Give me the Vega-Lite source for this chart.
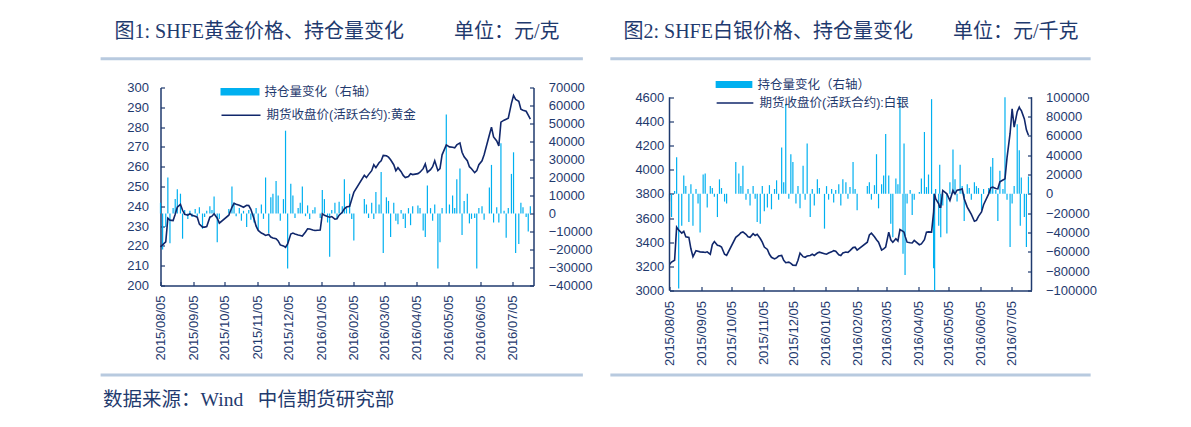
{
"$schema": "https://vega.github.io/schema/vega-lite/v6.json",
"background": "white",
"padding": {"left": 98.5, "top": 21.5, "right": 5, "bottom": 5},
"spacing": 16,
"resolve": {"scale": {"color": "independent", "stroke": "independent"}, "legend": {"color": "independent", "stroke": "independent"}},
"title": {"text": "数据来源：Wind\u00a0\u00a0\u00a0中信期货研究部", "orient": "bottom", "anchor": "start", "frame": "bounds", "offset": 29, "dx": 4, "baseline": "alphabetic", "fontSize": 19.5},
"datasets": {
"gold": [
{"d":"2015/08/05","p":219.5,"v":6000},
{"d":"2015/08/07","p":220.5,"v":-20000},
{"d":"2015/08/10","p":222,"v":-7500},
{"d":"2015/08/12","p":234,"v":20000},
{"d":"2015/08/14","p":233,"v":-16500},
{"d":"2015/08/17","p":232.8,"v":3000},
{"d":"2015/08/19","p":236,"v":8000},
{"d":"2015/08/21","p":239.5,"v":13500},
{"d":"2015/08/24","p":241,"v":11000},
{"d":"2015/08/26","p":238,"v":-14000},
{"d":"2015/08/28","p":236,"v":2000},
{"d":"2015/08/31","p":235.5,"v":-3000},
{"d":"2015/09/02","p":236.2,"v":1500},
{"d":"2015/09/04","p":235.5,"v":-2000},
{"d":"2015/09/07","p":235,"v":2500},
{"d":"2015/09/09","p":234.5,"v":-1500},
{"d":"2015/09/11","p":231,"v":3500},
{"d":"2015/09/14","p":229.5,"v":-8500},
{"d":"2015/09/16","p":229.5,"v":-2000},
{"d":"2015/09/18","p":229.8,"v":1500},
{"d":"2015/09/21","p":234.5,"v":4000},
{"d":"2015/09/23","p":235,"v":2000},
{"d":"2015/09/25","p":236.2,"v":9500},
{"d":"2015/09/28","p":234,"v":-16000},
{"d":"2015/09/30","p":231.5,"v":-3000},
{"d":"2015/10/09","p":235.5,"v":2500},
{"d":"2015/10/12","p":239.5,"v":15000},
{"d":"2015/10/14","p":241.5,"v":6000},
{"d":"2015/10/16","p":241,"v":-1500},
{"d":"2015/10/19","p":240.5,"v":3000},
{"d":"2015/10/21","p":240,"v":-4000},
{"d":"2015/10/23","p":239.5,"v":1500},
{"d":"2015/10/26","p":240.5,"v":-7500},
{"d":"2015/10/28","p":240.4,"v":2000},
{"d":"2015/10/30","p":238.5,"v":-3500},
{"d":"2015/11/02","p":233.7,"v":-5000},
{"d":"2015/11/04","p":230,"v":3000},
{"d":"2015/11/06","p":227.8,"v":-9000},
{"d":"2015/11/09","p":226.5,"v":5000},
{"d":"2015/11/11","p":226,"v":-3000},
{"d":"2015/11/13","p":225.3,"v":20000},
{"d":"2015/11/16","p":225.8,"v":-11000},
{"d":"2015/11/18","p":224.5,"v":9000},
{"d":"2015/11/20","p":224,"v":11000},
{"d":"2015/11/23","p":223.6,"v":18000},
{"d":"2015/11/25","p":222.5,"v":10000},
{"d":"2015/11/27","p":220.5,"v":-4000},
{"d":"2015/11/30","p":220,"v":8000},
{"d":"2015/12/02","p":219.3,"v":46000},
{"d":"2015/12/04","p":221,"v":-30500},
{"d":"2015/12/07","p":226,"v":16500},
{"d":"2015/12/09","p":226.5,"v":10000},
{"d":"2015/12/11","p":226,"v":-2500},
{"d":"2015/12/14","p":225.5,"v":3000},
{"d":"2015/12/16","p":225.3,"v":6000},
{"d":"2015/12/18","p":225,"v":15000},
{"d":"2015/12/21","p":227,"v":-1500},
{"d":"2015/12/23","p":228.6,"v":4500},
{"d":"2015/12/25","p":228.5,"v":-3000},
{"d":"2015/12/28","p":228,"v":2000},
{"d":"2015/12/30","p":227.8,"v":3500},
{"d":"2016/01/04","p":228,"v":-2500},
{"d":"2016/01/06","p":236.2,"v":13000},
{"d":"2016/01/08","p":235.5,"v":8000},
{"d":"2016/01/11","p":234.8,"v":-5000},
{"d":"2016/01/13","p":234.5,"v":-24000},
{"d":"2016/01/15","p":234.8,"v":2000},
{"d":"2016/01/18","p":233.5,"v":6000},
{"d":"2016/01/20","p":233.7,"v":-3000},
{"d":"2016/01/22","p":235.5,"v":6500},
{"d":"2016/01/25","p":237,"v":4000},
{"d":"2016/01/27","p":238.7,"v":19000},
{"d":"2016/01/29","p":239.6,"v":3000},
{"d":"2016/02/01","p":240,"v":11000},
{"d":"2016/02/03","p":243.5,"v":-3000},
{"d":"2016/02/05","p":247,"v":-15000},
{"d":"2016/02/15","p":255.6,"v":8000},
{"d":"2016/02/17","p":254.5,"v":5000},
{"d":"2016/02/19","p":256,"v":-2500},
{"d":"2016/02/22","p":258,"v":6000},
{"d":"2016/02/24","p":261,"v":-3000},
{"d":"2016/02/26","p":259.5,"v":12000},
{"d":"2016/02/29","p":262,"v":5000},
{"d":"2016/03/02","p":263,"v":23000},
{"d":"2016/03/04","p":265.7,"v":-22000},
{"d":"2016/03/07","p":265.5,"v":9000},
{"d":"2016/03/09","p":264.8,"v":7000},
{"d":"2016/03/11","p":263.5,"v":-13000},
{"d":"2016/03/14","p":261,"v":6000},
{"d":"2016/03/16","p":258,"v":-4000},
{"d":"2016/03/18","p":259.5,"v":-6000},
{"d":"2016/03/21","p":257.5,"v":2000},
{"d":"2016/03/23","p":255.6,"v":-3000},
{"d":"2016/03/25","p":254.5,"v":-8000},
{"d":"2016/03/28","p":255,"v":3000},
{"d":"2016/03/30","p":256.4,"v":-6500},
{"d":"2016/04/01","p":256,"v":4000},
{"d":"2016/04/06","p":256.5,"v":4500},
{"d":"2016/04/08","p":257.2,"v":3000},
{"d":"2016/04/11","p":259,"v":-9500},
{"d":"2016/04/13","p":261.4,"v":-13000},
{"d":"2016/04/15","p":257.2,"v":15500},
{"d":"2016/04/18","p":258.5,"v":3000},
{"d":"2016/04/20","p":260,"v":-4000},
{"d":"2016/04/22","p":263,"v":5000},
{"d":"2016/04/25","p":258,"v":-30500},
{"d":"2016/04/27","p":259,"v":-16000},
{"d":"2016/04/29","p":266,"v":3000},
{"d":"2016/05/03","p":271,"v":55000},
{"d":"2016/05/06","p":270,"v":5000},
{"d":"2016/05/09","p":269.8,"v":10000},
{"d":"2016/05/11","p":269.5,"v":3000},
{"d":"2016/05/13","p":271,"v":19000},
{"d":"2016/05/16","p":272,"v":25000},
{"d":"2016/05/18","p":267.3,"v":-12000},
{"d":"2016/05/20","p":265,"v":7000},
{"d":"2016/05/23","p":263,"v":11000},
{"d":"2016/05/25","p":260,"v":-5500},
{"d":"2016/05/27","p":259,"v":-3000},
{"d":"2016/05/30","p":257,"v":-2500},
{"d":"2016/06/01","p":258,"v":-30500},
{"d":"2016/06/03","p":261,"v":3000},
{"d":"2016/06/06","p":263,"v":4000},
{"d":"2016/06/08","p":266,"v":-3500},
{"d":"2016/06/13","p":276,"v":14500},
{"d":"2016/06/15","p":280,"v":27000},
{"d":"2016/06/17","p":275,"v":-5000},
{"d":"2016/06/20","p":273,"v":3500},
{"d":"2016/06/22","p":270.5,"v":-5000},
{"d":"2016/06/24","p":282.5,"v":39000},
{"d":"2016/06/27","p":283.5,"v":1500},
{"d":"2016/06/29","p":284,"v":-13500},
{"d":"2016/07/01","p":284.5,"v":3000},
{"d":"2016/07/04","p":292,"v":22000},
{"d":"2016/07/06","p":296,"v":34000},
{"d":"2016/07/08","p":294,"v":-22000},
{"d":"2016/07/11","p":293,"v":-17000},
{"d":"2016/07/13","p":289,"v":6000},
{"d":"2016/07/15","p":288.5,"v":3500},
{"d":"2016/07/18","p":288,"v":-2000},
{"d":"2016/07/20","p":286,"v":-10000},
{"d":"2016/07/22","p":284,"v":4000}
],
"silver": [
{"d":"2015/08/05","p":3215,"v":-8000},
{"d":"2015/08/07","p":3235,"v":-24000},
{"d":"2015/08/10","p":3250,"v":3000},
{"d":"2015/08/12","p":3524,"v":38000},
{"d":"2015/08/14","p":3500,"v":-98000},
{"d":"2015/08/17","p":3475,"v":-33000},
{"d":"2015/08/19","p":3490,"v":19000},
{"d":"2015/08/21","p":3445,"v":8000},
{"d":"2015/08/24","p":3440,"v":-29000},
{"d":"2015/08/26","p":3345,"v":10000},
{"d":"2015/08/28","p":3280,"v":-33000},
{"d":"2015/08/31","p":3330,"v":5000},
{"d":"2015/09/02","p":3325,"v":-10000},
{"d":"2015/09/04","p":3320,"v":-40000},
{"d":"2015/09/07","p":3318,"v":20000},
{"d":"2015/09/09","p":3315,"v":21000},
{"d":"2015/09/11","p":3320,"v":-14000},
{"d":"2015/09/14","p":3300,"v":8000},
{"d":"2015/09/16","p":3380,"v":6000},
{"d":"2015/09/18","p":3405,"v":-3000},
{"d":"2015/09/21","p":3375,"v":-24000},
{"d":"2015/09/23","p":3370,"v":15000},
{"d":"2015/09/25","p":3360,"v":6000},
{"d":"2015/09/28","p":3300,"v":-8000},
{"d":"2015/09/30","p":3290,"v":-10000},
{"d":"2015/10/09","p":3440,"v":33000},
{"d":"2015/10/12","p":3460,"v":21000},
{"d":"2015/10/14","p":3478,"v":8000},
{"d":"2015/10/16","p":3485,"v":29000},
{"d":"2015/10/19","p":3465,"v":-6000},
{"d":"2015/10/21","p":3445,"v":5000},
{"d":"2015/10/23","p":3440,"v":-12000},
{"d":"2015/10/26","p":3470,"v":8000},
{"d":"2015/10/28","p":3455,"v":-5000},
{"d":"2015/10/30","p":3465,"v":-29000},
{"d":"2015/11/02","p":3430,"v":-31000},
{"d":"2015/11/04","p":3400,"v":8000},
{"d":"2015/11/06","p":3360,"v":-18000},
{"d":"2015/11/09","p":3340,"v":-14000},
{"d":"2015/11/11","p":3300,"v":9000},
{"d":"2015/11/13","p":3275,"v":-16000},
{"d":"2015/11/16","p":3262,"v":5000},
{"d":"2015/11/18","p":3270,"v":14000},
{"d":"2015/11/20","p":3285,"v":-6000},
{"d":"2015/11/23","p":3290,"v":48000},
{"d":"2015/11/25","p":3250,"v":12000},
{"d":"2015/11/27","p":3230,"v":93000},
{"d":"2015/11/30","p":3235,"v":-5000},
{"d":"2015/12/02","p":3225,"v":41000},
{"d":"2015/12/04","p":3210,"v":33000},
{"d":"2015/12/07","p":3207,"v":-10000},
{"d":"2015/12/09","p":3250,"v":8000},
{"d":"2015/12/11","p":3310,"v":-15000},
{"d":"2015/12/14","p":3280,"v":29000},
{"d":"2015/12/16","p":3275,"v":-6000},
{"d":"2015/12/18","p":3285,"v":52000},
{"d":"2015/12/21","p":3290,"v":-24000},
{"d":"2015/12/23","p":3300,"v":5000},
{"d":"2015/12/25","p":3290,"v":-12000},
{"d":"2015/12/28","p":3310,"v":15000},
{"d":"2015/12/30","p":3317,"v":6000},
{"d":"2016/01/04","p":3305,"v":-36000},
{"d":"2016/01/06","p":3300,"v":8000},
{"d":"2016/01/08","p":3310,"v":-6000},
{"d":"2016/01/11","p":3320,"v":5000},
{"d":"2016/01/13","p":3330,"v":-9000},
{"d":"2016/01/15","p":3325,"v":4000},
{"d":"2016/01/18","p":3295,"v":10000},
{"d":"2016/01/20","p":3290,"v":-12000},
{"d":"2016/01/22","p":3310,"v":15000},
{"d":"2016/01/25","p":3318,"v":12000},
{"d":"2016/01/27","p":3315,"v":-5000},
{"d":"2016/01/29","p":3330,"v":7000},
{"d":"2016/02/01","p":3355,"v":33000},
{"d":"2016/02/03","p":3358,"v":5000},
{"d":"2016/02/05","p":3335,"v":-17000},
{"d":"2016/02/15","p":3400,"v":8000},
{"d":"2016/02/17","p":3460,"v":12000},
{"d":"2016/02/19","p":3474,"v":-6000},
{"d":"2016/02/22","p":3445,"v":9000},
{"d":"2016/02/24","p":3420,"v":41000},
{"d":"2016/02/26","p":3400,"v":-15000},
{"d":"2016/02/29","p":3335,"v":10000},
{"d":"2016/03/02","p":3345,"v":19000},
{"d":"2016/03/04","p":3360,"v":62000},
{"d":"2016/03/07","p":3483,"v":19000},
{"d":"2016/03/09","p":3420,"v":-31000},
{"d":"2016/03/11","p":3400,"v":-45000},
{"d":"2016/03/14","p":3428,"v":16000},
{"d":"2016/03/16","p":3410,"v":10000},
{"d":"2016/03/18","p":3505,"v":100000},
{"d":"2016/03/21","p":3490,"v":-62000},
{"d":"2016/03/22","p":3483,"v":52000},
{"d":"2016/03/23","p":3450,"v":-84000},
{"d":"2016/03/25","p":3400,"v":-10000},
{"d":"2016/03/28","p":3395,"v":4000},
{"d":"2016/03/30","p":3393,"v":-22000},
{"d":"2016/04/01","p":3414,"v":-6000},
{"d":"2016/04/06","p":3379,"v":2000},
{"d":"2016/04/08","p":3386,"v":16000},
{"d":"2016/04/11","p":3420,"v":64000},
{"d":"2016/04/13","p":3483,"v":7000},
{"d":"2016/04/15","p":3485,"v":20000},
{"d":"2016/04/18","p":3483,"v":98000},
{"d":"2016/04/20","p":3650,"v":-77000},
{"d":"2016/04/21","p":3800,"v":-100000},
{"d":"2016/04/22","p":3760,"v":5000},
{"d":"2016/04/25","p":3717,"v":-33000},
{"d":"2016/04/26","p":3690,"v":30000},
{"d":"2016/04/27","p":3690,"v":-45000},
{"d":"2016/04/29","p":3828,"v":-12000},
{"d":"2016/05/03","p":3800,"v":-41000},
{"d":"2016/05/06","p":3745,"v":12000},
{"d":"2016/05/09","p":3828,"v":46000},
{"d":"2016/05/11","p":3800,"v":15000},
{"d":"2016/05/13","p":3830,"v":-8000},
{"d":"2016/05/16","p":3835,"v":30000},
{"d":"2016/05/18","p":3842,"v":8000},
{"d":"2016/05/20","p":3760,"v":-28000},
{"d":"2016/05/23","p":3690,"v":10000},
{"d":"2016/05/25","p":3660,"v":6000},
{"d":"2016/05/27","p":3630,"v":-6000},
{"d":"2016/05/30","p":3573,"v":12000},
{"d":"2016/06/01","p":3580,"v":8000},
{"d":"2016/06/03","p":3614,"v":6000},
{"d":"2016/06/06","p":3650,"v":-17000},
{"d":"2016/06/08","p":3710,"v":5000},
{"d":"2016/06/13","p":3800,"v":6000},
{"d":"2016/06/15","p":3850,"v":28000},
{"d":"2016/06/17","p":3855,"v":37000},
{"d":"2016/06/20","p":3845,"v":4000},
{"d":"2016/06/22","p":3842,"v":-28000},
{"d":"2016/06/24","p":3900,"v":24000},
{"d":"2016/06/27","p":3915,"v":5000},
{"d":"2016/06/29","p":3924,"v":100000},
{"d":"2016/07/01","p":4100,"v":-6000},
{"d":"2016/07/04","p":4300,"v":-55000},
{"d":"2016/07/06","p":4504,"v":-10000},
{"d":"2016/07/08","p":4352,"v":8000},
{"d":"2016/07/11","p":4480,"v":72000},
{"d":"2016/07/13","p":4517,"v":45000},
{"d":"2016/07/14","p":4500,"v":-33000},
{"d":"2016/07/15","p":4490,"v":17000},
{"d":"2016/07/18","p":4420,"v":-24000},
{"d":"2016/07/20","p":4330,"v":-55000},
{"d":"2016/07/22","p":4285,"v":18000}
]
},
"hconcat": [
{
"width": 373, "height": 198,
"title": {"text": "图1: SHFE黄金价格、持仓量变化\u3000\u3000\u00a0\u00a0单位：元/克", "anchor": "start", "frame": "group", "dx": -46, "offset": -1, "baseline": "alphabetic"},
"data": {"name": "gold"},
"layer": [
{
"mark": {"type": "bar", "width": 1.2},
"encoding": {
"x": {"field": "d", "type": "temporal", "title": null,
"scale": {"domain": [{"year":2015,"month":8,"date":5},{"year":2016,"month":7,"date":25}], "padding": 0},
"axis": {"values": [{"year":2015,"month":8,"date":5},{"year":2015,"month":9,"date":5},{"year":2015,"month":10,"date":5},{"year":2015,"month":11,"date":5},{"year":2015,"month":12,"date":5},{"year":2016,"month":1,"date":5},{"year":2016,"month":2,"date":5},{"year":2016,"month":3,"date":5},{"year":2016,"month":4,"date":5},{"year":2016,"month":5,"date":5},{"year":2016,"month":6,"date":5},{"year":2016,"month":7,"date":5}], "tickCount": 30, "format": "%Y/%m/%d", "labelAngle": 270, "labelPadding": 13.5, "labelOverlap": false, "labelFontSize": 13}},
"y": {"field": "v", "type": "quantitative", "title": null,
"scale": {"domain": [-40000, 70000], "nice": false, "zero": false},
"axis": {"orient": "right", "values": [-40000,-30000,-20000,-10000,0,10000,20000,30000,40000,50000,60000,70000], "tickCount": 30, "format": "d", "labelPadding": 18.7}},
"color": {"datum": "持仓量变化（右轴）", "scale": {"range": ["#00B0F0"]},
"legend": {"title": null, "legendX": 60, "legendY": -15.3, "symbolType": "M-1,-0.19H1V0.19H-1Z", "symbolSize": 1521, "symbolStrokeWidth": 0}}
}
},
{
"mark": {"type": "line", "strokeWidth": 1.6},
"encoding": {
"x": {"field": "d", "type": "temporal", "title": null,
"scale": {"domain": [{"year":2015,"month":8,"date":5},{"year":2016,"month":7,"date":25}], "padding": 0}},
"y": {"field": "p", "type": "quantitative", "title": null,
"scale": {"domain": [200, 300], "nice": false, "zero": false},
"axis": {"orient": "left", "values": [200,210,220,230,240,250,260,270,280,290,300], "tickCount": 30, "labelPadding": 16}},
"stroke": {"datum": "期货收盘价(活跃合约):黄金", "scale": {"range": ["#10276B"]},
"legend": {"title": null, "legendX": 60, "legendY": 7.3, "symbolType": "stroke", "symbolSize": 1521, "symbolStrokeWidth": 1.6}}
}
},
{
"data": {"values": [{}]},
"mark": {"type": "rule", "color": "#B8CADF", "strokeWidth": 3},
"encoding": {
"x": {"datum": {"year":2015,"month":6,"date":9}, "type": "temporal", "title": null,
"scale": {"domain": [{"year":2015,"month":8,"date":5},{"year":2016,"month":7,"date":25}], "padding": 0}},
"x2": {"datum": {"year":2016,"month":9,"date":10}},
"y": {"datum": 314.5, "type": "quantitative", "axis": null, "scale": {"domain": [200, 300], "nice": false, "zero": false}}
}
},
{
"data": {"values": [{}]},
"mark": {"type": "rule", "color": "#B8CADF", "strokeWidth": 3},
"encoding": {
"x": {"datum": {"year":2015,"month":6,"date":9}, "type": "temporal", "title": null,
"scale": {"domain": [{"year":2015,"month":8,"date":5},{"year":2016,"month":7,"date":25}], "padding": 0}},
"x2": {"datum": {"year":2016,"month":9,"date":10}},
"y": {"datum": 154.8, "type": "quantitative", "axis": null, "scale": {"domain": [200, 300], "nice": false, "zero": false}}
}
}
],
"resolve": {"scale": {"y": "independent"}}
},
{
"width": 362, "height": 203,
"title": {"text": "图2: SHFE白银价格、持仓量变化\u3000\u3000单位：元/千克", "anchor": "start", "frame": "group", "dx": -46, "offset": -1, "baseline": "alphabetic"},
"data": {"name": "silver"},
"layer": [
{
"mark": {"type": "bar", "width": 1.2},
"encoding": {
"x": {"field": "d", "type": "temporal", "title": null,
"scale": {"domain": [{"year":2015,"month":8,"date":5},{"year":2016,"month":7,"date":25}], "padding": 0},
"axis": {"values": [{"year":2015,"month":8,"date":5},{"year":2015,"month":9,"date":5},{"year":2015,"month":10,"date":5},{"year":2015,"month":11,"date":5},{"year":2015,"month":12,"date":5},{"year":2016,"month":1,"date":5},{"year":2016,"month":2,"date":5},{"year":2016,"month":3,"date":5},{"year":2016,"month":4,"date":5},{"year":2016,"month":5,"date":5},{"year":2016,"month":6,"date":5},{"year":2016,"month":7,"date":5}], "tickCount": 30, "format": "%Y/%m/%d", "labelAngle": 270, "labelPadding": 14, "labelOverlap": false, "labelFontSize": 13}},
"y": {"field": "v", "type": "quantitative", "title": null,
"scale": {"domain": [-100000, 110040], "nice": false, "zero": false},
"axis": {"orient": "right", "domain": false, "values": [-100000,-80000,-60000,-40000,-20000,0,20000,40000,60000,80000,100000], "tickCount": 30, "format": "d", "labelPadding": 18}},
"color": {"datum": "持仓量变化（右轴）", "scale": {"range": ["#00B0F0"]},
"legend": {"title": null, "legendX": 46, "legendY": -21.4, "symbolType": "M-1,-0.19H1V0.19H-1Z", "symbolSize": 1347, "symbolStrokeWidth": 0}}
}
},
{
"mark": {"type": "line", "strokeWidth": 1.6},
"encoding": {
"x": {"field": "d", "type": "temporal", "title": null,
"scale": {"domain": [{"year":2015,"month":8,"date":5},{"year":2016,"month":7,"date":25}], "padding": 0}},
"y": {"field": "p", "type": "quantitative", "title": null,
"scale": {"domain": [3000, 4680.3], "nice": false, "zero": false},
"axis": {"orient": "left", "domain": false, "values": [3000,3200,3400,3600,3800,4000,4200,4400,4600], "tickCount": 30, "format": "d", "labelPadding": 9.7}},
"stroke": {"datum": "期货收盘价(活跃合约):白银", "scale": {"range": ["#10276B"]},
"legend": {"title": null, "legendX": 46, "legendY": -4, "symbolType": "stroke", "symbolSize": 1347, "symbolStrokeWidth": 1.6}}
}
},
{
"data": {"values": [{}]},
"mark": {"type": "rule", "color": "#B8CADF", "strokeWidth": 3},
"encoding": {
"x": {"datum": {"year":2015,"month":6,"date":8}, "type": "temporal", "title": null,
"scale": {"domain": [{"year":2015,"month":8,"date":5},{"year":2016,"month":7,"date":25}], "padding": 0}},
"x2": {"datum": {"year":2016,"month":9,"date":21}},
"y": {"datum": 4918.7, "type": "quantitative", "axis": null, "scale": {"domain": [3000, 4680.3], "nice": false, "zero": false}}
}
},
{
"data": {"values": [{}]},
"mark": {"type": "rule", "color": "#B8CADF", "strokeWidth": 3},
"encoding": {
"x": {"datum": {"year":2015,"month":6,"date":8}, "type": "temporal", "title": null,
"scale": {"domain": [{"year":2015,"month":8,"date":5},{"year":2016,"month":7,"date":25}], "padding": 0}},
"x2": {"datum": {"year":2016,"month":9,"date":21}},
"y": {"datum": 2300.4, "type": "quantitative", "axis": null, "scale": {"domain": [3000, 4680.3], "nice": false, "zero": false}}
}
},
{
"data": {"values": [{}]},
"mark": {"type": "rule", "color": "#1F3A6E", "strokeWidth": 1.5},
"encoding": {
"x": {"datum": {"year":2015,"month":8,"date":5}, "type": "temporal", "title": null,
"scale": {"domain": [{"year":2015,"month":8,"date":5},{"year":2016,"month":7,"date":25}], "padding": 0}},
"y": {"datum": 3000, "type": "quantitative", "axis": null, "scale": {"domain": [3000, 4680.3], "nice": false, "zero": false}},
"y2": {"datum": 4600}
}
},
{
"data": {"values": [{}]},
"mark": {"type": "rule", "color": "#1F3A6E", "strokeWidth": 1.5},
"encoding": {
"x": {"datum": {"year":2016,"month":7,"date":25}, "type": "temporal", "title": null,
"scale": {"domain": [{"year":2015,"month":8,"date":5},{"year":2016,"month":7,"date":25}], "padding": 0}},
"y": {"datum": 3000, "type": "quantitative", "axis": null, "scale": {"domain": [3000, 4680.3], "nice": false, "zero": false}},
"y2": {"datum": 4600}
}
}
],
"resolve": {"scale": {"y": "independent"}}
}
],
"config": {
"view": {"stroke": null},
"axis": {"labelFont": "Liberation Sans", "labelFontSize": 13, "labelColor": "#1F3A6E", "domainColor": "#1F3A6E", "domainWidth": 1.5, "tickColor": "#1F3A6E", "tickWidth": 1.2, "tickSize": -4, "grid": false, "labelOverlap": false, "labelFlush": false},
"legend": {"labelFont": "Liberation Sans, Noto Sans CJK SC", "labelFontSize": 12.5, "labelColor": "#1F3A6E", "padding": 0, "labelOffset": 5, "orient": "none"},
"title": {"font": "Liberation Serif, Noto Sans CJK SC", "fontSize": 20, "fontWeight": "normal", "color": "#1F3A6E"}
}
}
